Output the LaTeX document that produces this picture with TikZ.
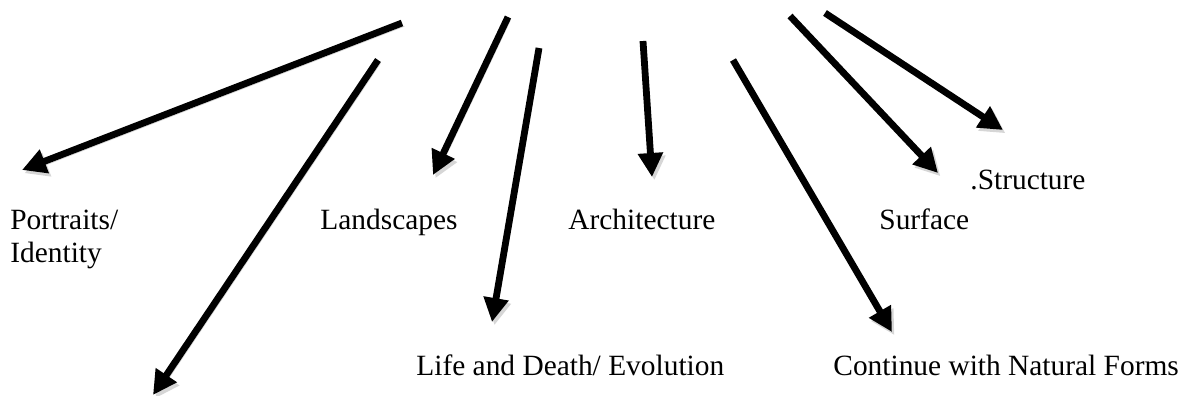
\documentclass[tikz,border=0pt]{standalone}
\usepackage{fontspec}
\setmainfont{Liberation Serif}
\usepackage{tikz}
\usetikzlibrary{arrows.meta}

\begin{document}
\begin{tikzpicture}[
  x=0.5pt, y=-0.5pt,
  topic/.style={
    inner sep=0pt, anchor=base west, align=left,
    font=\fontsize{14.7pt}{16.5pt}\selectfont
  },
  arr/.style={
    -{Triangle[length=12pt, width=12pt]}, line width=3.4pt, black,
    preaction={draw=black!16, transform canvas={shift={(1.2pt,-1.6pt)}}}
  },
]
\useasboundingbox (0,0) rectangle (1184,396);

%% ---- Labels ----
\node[topic, anchor=north west] (portraits) at (10, 210) {Portraits/\\Identity};
\node[topic] (landscapes) at (320, 229) {Landscapes};
\node[topic] (arch)      at (568, 229) {Architecture};
\node[topic] (surface)   at (879, 229) {Surface};
\node[topic] (struct)    at (970, 189) {.Structure};
\node[topic] (life)      at (416, 375) {Life and Death/ Evolution};
\node[topic] (natural)   at (833, 375) {Continue with Natural Forms};

%% ---- Arrow ends ----
\coordinate (s1) at (402, 23);   \coordinate (t1) at (22, 170);
\coordinate (s2) at (378, 60);   \coordinate (t2) at (153, 395);
\coordinate (s3) at (508, 17);   \coordinate (t3) at (433, 175);
\coordinate (s4) at (539, 48);   \coordinate (t4) at (492, 322);
\coordinate (s5) at (643, 41);   \coordinate (t5) at (652, 177);
\coordinate (s6) at (733, 60);   \coordinate (t6) at (892, 332);
\coordinate (s7) at (790, 16);   \coordinate (t7) at (938, 173);
\coordinate (s8) at (825, 13);   \coordinate (t8) at (1003, 130);

%% ---- Arrows ----
\foreach \i in {1,...,8}
  \draw[arr] (s\i) -- (t\i);

\end{tikzpicture}
\end{document}
